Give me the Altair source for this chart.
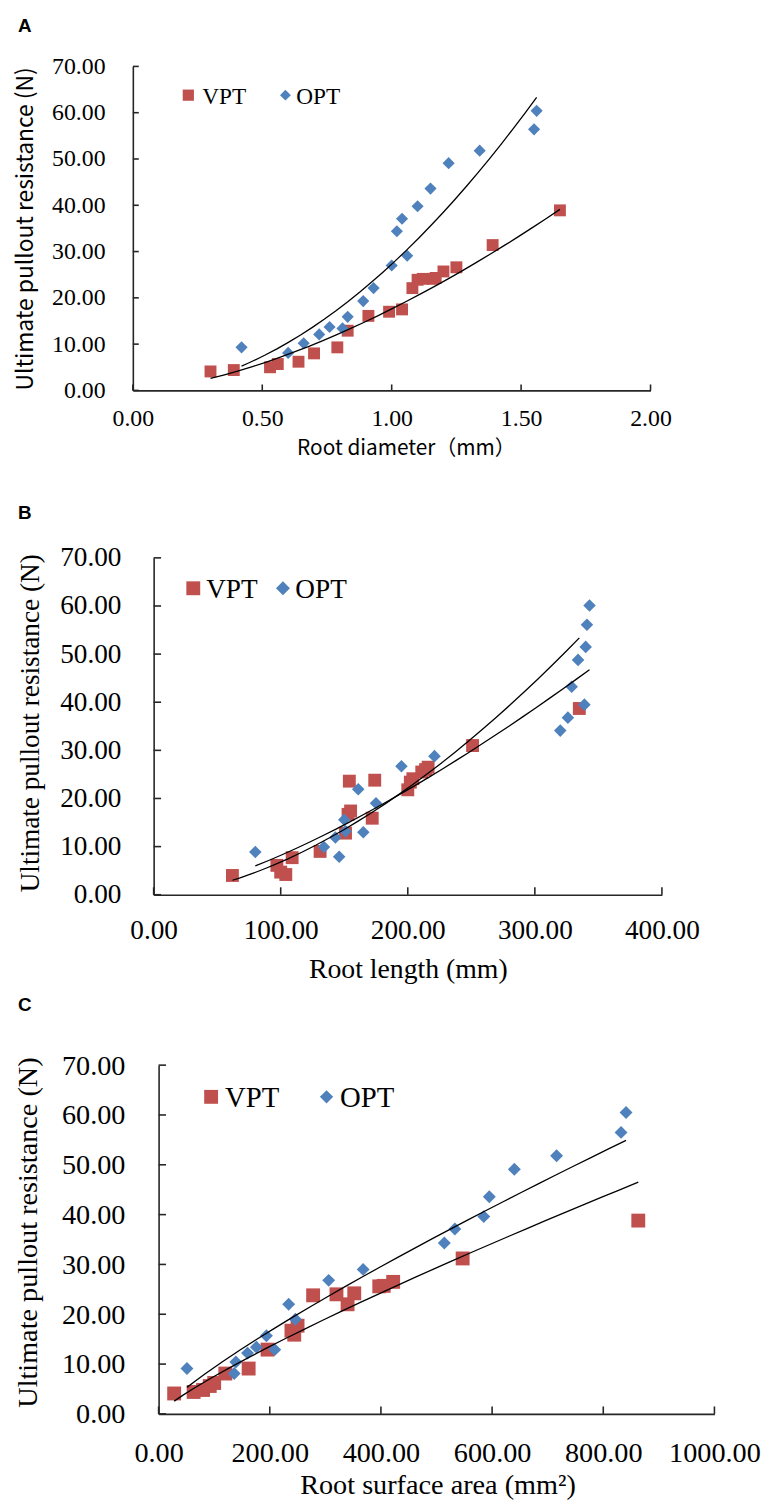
import altair as alt
import pandas as pd

# ---------------- data ----------------
series_names = ["VPT", "OPT"]
y_ticks = [0, 10, 20, 30, 40, 50, 60, 70]

# Panel A: root diameter (mm)
a_x_ticks = [0.0, 0.5, 1.0, 1.5, 2.0]
a_vpt_x = [0.30, 0.39, 0.53, 0.56, 0.64, 0.70, 0.79, 0.83, 0.91, 0.99, 1.04, 1.08, 1.10, 1.12, 1.16, 1.17, 1.20, 1.25, 1.39, 1.65]
a_vpt_y = [4.1, 4.4, 5.0, 5.7, 6.2, 8.0, 9.3, 12.9, 16.1, 17.0, 17.5, 22.1, 23.9, 24.1, 24.1, 24.3, 25.7, 26.6, 31.4, 38.9]
a_opt_x = [0.42, 0.60, 0.66, 0.72, 0.76, 0.81, 0.83, 0.89, 0.93, 1.00, 1.02, 1.04, 1.06, 1.10, 1.15, 1.22, 1.34, 1.55, 1.56]
a_opt_y = [9.3, 8.1, 10.2, 12.1, 13.7, 13.4, 15.9, 19.3, 22.1, 27.0, 34.4, 37.1, 29.1, 39.8, 43.6, 49.1, 51.8, 56.4, 60.4]

# Panel B: root length (mm)
b_x_ticks = [0, 100, 200, 300, 400]
b_vpt_x = [62, 97, 100, 104, 109, 131, 151, 153, 155, 154, 172, 174, 200, 202, 204, 211, 214, 216, 251, 335]
b_vpt_y = [4.0, 6.1, 4.7, 4.2, 7.7, 9.0, 12.8, 16.7, 17.4, 23.6, 15.9, 23.8, 21.8, 23.4, 24.1, 25.5, 26.0, 26.5, 31.0, 38.7]
b_opt_x = [80, 134, 143, 146, 150, 151, 161, 165, 175, 195, 221, 320, 326, 329, 334, 339, 340, 341, 343]
b_opt_y = [8.9, 9.9, 11.9, 7.9, 15.6, 13.2, 21.9, 13.0, 19.0, 26.7, 28.8, 34.1, 36.8, 43.2, 48.8, 39.5, 51.5, 56.1, 60.1]

# Panel C: root surface area (mm2)
c_x_ticks = [0, 200, 400, 600, 800, 1000]
c_vpt_x = [28, 63, 80, 92, 100, 120, 162, 196, 239, 244, 250, 278, 320, 340, 352, 397, 405, 422, 547, 863]
c_vpt_y = [4.1, 4.4, 4.8, 5.6, 6.2, 8.1, 9.1, 12.9, 16.7, 15.9, 17.7, 23.8, 24.0, 22.0, 24.2, 25.6, 25.7, 26.5, 31.2, 38.8]
c_opt_x = [51, 136, 139, 160, 176, 194, 209, 234, 246, 306, 368, 514, 533, 585, 595, 640, 716, 832, 841]
c_opt_y = [9.1, 8.1, 10.4, 12.2, 13.4, 15.7, 12.9, 22.0, 19.0, 26.8, 29.0, 34.3, 37.1, 39.6, 43.6, 49.1, 51.8, 56.5, 60.5]

panel_letters = ["A", "B", "C"]
y_title = "Ultimate pullout resistance (N)"
x_titles = ["Root diameter（mm）", "Root length (mm)", "Root surface area (mm²)"]

RED = "#C0504D"
BLUE = "#4F81BD"
AXC = "#262626"
SERIF = "Liberation Serif"
SANS_CJK = "Noto Sans CJK SC"


def text_layer(t, x, y, font, size, align="left", baseline="alphabetic", angle=0, bold=False):
    kw = dict(font=font, fontSize=size, align=align, baseline=baseline, color="black")
    if angle:
        kw["angle"] = angle
    if bold:
        kw["fontWeight"] = "bold"
    return alt.Chart(pd.DataFrame({"t": [t]})).mark_text(**kw).encode(
        text="t:N", x=alt.value(x), y=alt.value(y))


def make_panel(cfg):
    off = cfg["off"]
    H = cfg["height"]

    def xenc(field):
        return alt.X(f"{field}:Q",
                     scale=alt.Scale(domain=[0, cfg["xmax"]], range=[-off, cfg["width"]], nice=False, zero=False),
                     axis=alt.Axis(values=cfg["xticks"], format=".2f", title=None, grid=False, ticks=False,
                                   tickSize=0, labelFont=SERIF, labelFontSize=cfg["tickfs"], labelColor="black",
                                   labelPadding=cfg["xlabpad"], labelOverlap=False, labelFlush=False,
                                   domainColor=AXC, domainWidth=1.6))

    def yenc(field):
        return alt.Y(f"{field}:Q",
                     scale=alt.Scale(domain=[0, 70], nice=False, zero=False),
                     axis=alt.Axis(values=y_ticks, format=".2f", title=None, grid=False, ticks=False,
                                   tickSize=0, labelFont=SERIF, labelFontSize=cfg["tickfs"], labelColor="black",
                                   labelPadding=cfg["ylabpad"], labelOverlap=False, offset=off,
                                   domainColor=AXC, domainWidth=1.6))

    dv = pd.DataFrame({"x": cfg["vx"], "y": cfg["vy"]})
    do = pd.DataFrame({"x": cfg["ox"], "y": cfg["oy"]})

    spacer = alt.Chart(pd.DataFrame({"s": [0]})).mark_rule(opacity=0).encode(
        x=alt.value(-152), x2=alt.value(560), y=alt.value(cfg["band"][0]), y2=alt.value(cfg["band"][1]))

    ytk = alt.Chart(pd.DataFrame({"v": y_ticks})).mark_rule(color=AXC, strokeWidth=1.6).encode(
        y=yenc("v"), x=alt.value(-off), x2=alt.value(-off + cfg["ticklen"]))
    xtk = alt.Chart(pd.DataFrame({"v": cfg["xticks"]})).mark_rule(color=AXC, strokeWidth=1.6).encode(
        x=xenc("v"), y=alt.value(H), y2=alt.value(H - cfg["ticklen"]))

    pv = alt.Chart(dv).mark_square(size=cfg["sq"], color=RED, opacity=1).encode(x=xenc("x"), y=yenc("y"))
    po = alt.Chart(do).mark_point(shape="diamond", filled=True, size=cfg["dia"], color=BLUE, opacity=1).encode(
        x=xenc("x"), y=yenc("y"))

    lv = alt.Chart(dv).transform_regression("x", "y", method="pow").mark_line(
        color="black", strokeWidth=1.3).encode(x=xenc("x"), y=yenc("y"))
    lo = alt.Chart(do).transform_regression("x", "y", method="pow").mark_line(
        color="black", strokeWidth=1.3).encode(x=xenc("x"), y=yenc("y"))

    lg = cfg["legend"]
    leg_sq = alt.Chart(pd.DataFrame({"s": [series_names[0]]})).mark_square(
        size=lg["sq"], color=RED, opacity=1).encode(x=alt.value(lg["sqx"]), y=alt.value(lg["cy"]))
    leg_di = alt.Chart(pd.DataFrame({"s": [series_names[1]]})).mark_point(
        shape="diamond", filled=True, size=lg["dia"], color=BLUE, opacity=1).encode(
        x=alt.value(lg["dix"]), y=alt.value(lg["cy"]))
    leg_t1 = text_layer(series_names[0], lg["t1x"], lg["ty"], SERIF, lg["fs"])
    leg_t2 = text_layer(series_names[1], lg["t2x"], lg["ty"], SERIF, lg["fs"])

    letter = text_layer(cfg["letter"], -142, cfg["letter_y"], "Liberation Sans", 19, bold=True)
    yt = cfg["ytitle"]
    ytl = text_layer(y_title, yt["x"], yt["y"], yt["font"], yt["fs"], align="center", baseline="middle", angle=270)
    xt = cfg["xtitle"]
    xtl = text_layer(xt["t"], xt["x"], xt["y"], xt["font"], xt["fs"], align="center")

    return alt.layer(spacer, ytk, xtk, pv, po, lv, lo, leg_sq, leg_di, leg_t1, leg_t2,
                     letter, ytl, xtl).properties(width=cfg["width"], height=H)


cfgA = dict(vx=a_vpt_x, vy=a_vpt_y, ox=a_opt_x, oy=a_opt_y, xmax=2.0, xticks=a_x_ticks,
            off=26, width=496.5, height=327, tickfs=24, ylabpad=28, xlabpad=16, ticklen=6,
            sq=144, dia=150, band=(-52, 420), letter=panel_letters[0], letter_y=-35,
            legend=dict(sqx=30, dix=128, cy=29, t1x=44, t2x=139, ty=37.5, fs=23.5, sq=128, dia=120),
            ytitle=dict(x=-134, y=164, font=SANS_CJK, fs=23),
            xtitle=dict(t=x_titles[0], x=250, y=392, font=SANS_CJK, fs=21))

cfgB = dict(vx=b_vpt_x, vy=b_vpt_y, ox=b_opt_x, oy=b_opt_y, xmax=400, xticks=b_x_ticks,
            off=5, width=508, height=340, tickfs=27.5, ylabpad=33, xlabpad=22, ticklen=7.5,
            sq=169, dia=160, band=(-76, 434), letter=panel_letters[1], letter_y=-39,
            legend=dict(sqx=35, dix=125.5, cy=30.7, t1x=48, t2x=138, ty=40.7, fs=27.5, sq=196, dia=200),
            ytitle=dict(x=-128.5, y=167, font=SERIF, fs=27.5),
            xtitle=dict(t=x_titles[1], x=252, y=424, font=SERIF, fs=28))

cfgC = dict(vx=c_vpt_x, vy=c_vpt_y, ox=c_opt_x, oy=c_opt_y, xmax=1000, xticks=c_x_ticks,
            off=0, width=561, height=352, tickfs=28.5, ylabpad=34, xlabpad=25, ticklen=7.5,
            sq=196, dia=170, band=(-78, 438), letter=panel_letters[2], letter_y=-55,
            legend=dict(sqx=53, dix=169.5, cy=32, t1x=67, t2x=183, ty=42, fs=29, sq=196, dia=180),
            ytitle=dict(x=-131.5, y=169, font=SERIF, fs=28.5),
            xtitle=dict(t=x_titles[2], x=282, y=433, font=SERIF, fs=28.5))

chart = alt.vconcat(make_panel(cfgA), make_panel(cfgB), make_panel(cfgC), spacing=0).resolve_scale(
    x="independent", y="independent").properties(padding=0).configure_view(strokeWidth=0)

chart.save("out.html", embed_options={"renderer": "svg", "actions": False})
